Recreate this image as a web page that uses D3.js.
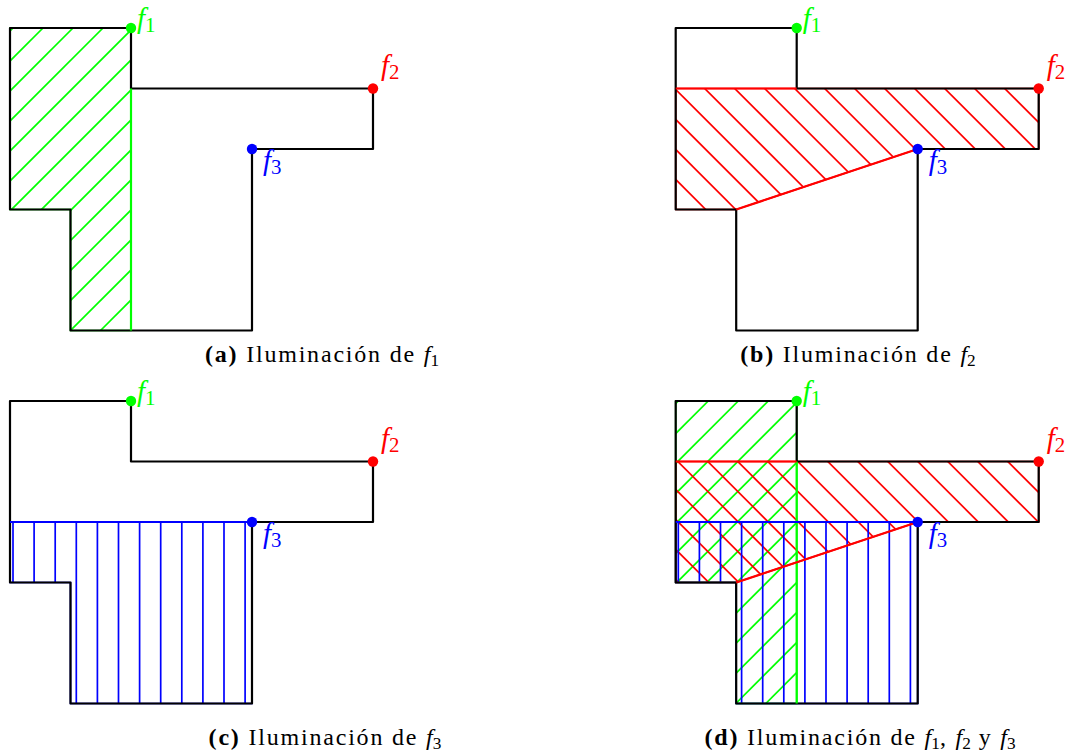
<!DOCTYPE html>
<html>
<head>
<meta charset="utf-8">
<script src="https://cdn.jsdelivr.net/npm/d3@7"></script>
<style>
  body { margin: 0; background: #fff; }
  svg { display: block; }
  text { font-family: "Liberation Serif", "DejaVu Serif", serif; }
</style>
</head>
<body>
<script>
// room outline in grid units (x to the right, y downwards)
var room = [[0,0],[2,0],[2,1],[6,1],[6,2],[4,2],[4,5],[1,5],[1,3],[0,3]];

var lightNames = ["f1", "f2", "f3"];
var lightPos = [[2,0], [6,1], [4,2]];
var lightColors = ["#00ff00", "#ff0000", "#0000ff"];

// region lit by each light
var litRegions = [
    [[0,0],[2,0],[2,5],[1,5],[1,3],[0,3]],
    [[0,1],[6,1],[6,2],[4,2],[1,3],[0,3]],
    [[0,2],[4,2],[4,5],[1,5],[1,3],[0,3]]
];

// coloured border of each lit region (the parts not on the walls)
var litEdges = [
    [[[2,1],[2,5]]],
    [[[0,1],[2,1]], [[4,2],[1,3]]],
    [[[0,2],[4,2]]]
];

var panelTags = ["(a)", "(b)", "(c)", "(d)"];
var panelLights = [[0], [1], [2], [0, 1, 2]];

// layout
var unit = 60.5;
var panelX = [10, 675.7, 10, 675.7],
    panelY = [28, 28, 401, 401];
var captionX = [322, 858, 325, 860],
    captionY = [362, 362, 745, 745];
// hatch phase per panel and light (pixels)
var hatchPhase = [[3, 4.5, 3], [3, 4.5, 3], [3, 3, 3], [2.6, 1.4, 2.6]];
var hatchKind = ["ne", "nw", "v"];

var svg = d3.select("body").append("svg")
    .attr("width", 1068)
    .attr("height", 752);

var x = d3.scaleLinear().domain([0, 6]).range([0, 6 * unit]),
    y = d3.scaleLinear().domain([0, 5]).range([0, 5 * unit]);

var W = x(6), H = y(5);
var line = d3.line().x(function(d) { return x(d[0]); }).y(function(d) { return y(d[1]); });
var poly = function(pts) { return line(pts) + "Z"; };

var defs = svg.append("defs");

function hatchLines(kind, phase) {
    var segs = [], c;
    if (kind === "ne") {        // x + y = c
        for (c = phase - 30; c < W + H + 30; c += 30) segs.push([[c, 0], [c - H, H]]);
    } else if (kind === "nw") { // y - x = c
        for (c = phase - W - 30; c < H + 30; c += 30) segs.push([[-c, 0], [H - c, H]]);
    } else {                    // vertical
        for (c = phase; c < W; c += 21.1) segs.push([[c, 0], [c, H]]);
    }
    return segs;
}

// italic f with an upright subscript; the next tspan takes back the shift
function mathF(text, name, size, sub) {
    text.append("tspan").attr("font-style", "italic").attr("letter-spacing", 0).text("f");
    text.append("tspan").attr("font-size", size * 0.72).attr("letter-spacing", 0)
        .attr("dy", sub).text(name.slice(1));
    return -sub;
}

panelTags.forEach(function(tag, p) {
    var g = svg.append("g")
        .attr("transform", "translate(" + panelX[p] + "," + panelY[p] + ")");

    // hatched lit regions
    panelLights[p].forEach(function(l) {
        var id = "clip-" + p + "-" + l;
        defs.append("clipPath").attr("id", id)
            .append("path").attr("d", poly(litRegions[l]));
        g.append("g")
            .attr("clip-path", "url(#" + id + ")")
            .selectAll("line")
            .data(hatchLines(hatchKind[l], hatchPhase[p][l]))
            .enter().append("line")
            .attr("x1", function(d) { return d[0][0]; })
            .attr("y1", function(d) { return d[0][1]; })
            .attr("x2", function(d) { return d[1][0]; })
            .attr("y2", function(d) { return d[1][1]; })
            .attr("stroke", lightColors[l])
            .attr("stroke-width", 1.7);
    });

    panelLights[p].forEach(function(l) {
        g.append("path")
            .attr("d", poly(litRegions[l]))
            .attr("fill", "none")
            .attr("stroke", lightColors[l])
            .attr("stroke-width", 1.6);
    });

    // walls
    g.append("path")
        .attr("d", poly(room))
        .attr("fill", "none")
        .attr("stroke", "#000")
        .attr("stroke-width", 2.2)
        .attr("stroke-linejoin", "round");

    // lit windows inside the room
    panelLights[p].forEach(function(l) {
        g.selectAll(null)
            .data(litEdges[l])
            .enter().append("path")
            .attr("d", line)
            .attr("fill", "none")
            .attr("stroke", lightColors[l])
            .attr("stroke-width", 2.2);
    });

    // lights
    var labelDx = [6, 8, 11], labelDy = [0, -13.5, 20.5];
    lightNames.forEach(function(name, i) {
        g.append("circle")
            .attr("cx", x(lightPos[i][0]))
            .attr("cy", y(lightPos[i][1]))
            .attr("r", 5.2)
            .attr("fill", lightColors[i]);
        var t = g.append("text")
            .attr("x", x(lightPos[i][0]) + labelDx[i])
            .attr("y", y(lightPos[i][1]) + labelDy[i])
            .attr("font-size", 29)
            .attr("fill", lightColors[i]);
        mathF(t, name, 29, 4);
    });

    // caption
    var cap = svg.append("text")
        .attr("x", captionX[p])
        .attr("y", captionY[p])
        .attr("text-anchor", "middle")
        .attr("font-size", 24)
        .attr("letter-spacing", 1.8)
        .attr("fill", "#000");
    cap.append("tspan").attr("font-weight", "bold").text(tag);
    cap.append("tspan").text(" Iluminación de ");
    var back = 0;
    panelLights[p].forEach(function(l, i) {
        if (i > 0) {
            cap.append("tspan").attr("dy", back)
                .text(i === panelLights[p].length - 1 ? " y " : ", ");
            back = 0;
        }
        back = mathF(cap, lightNames[l], 24, 4);
    });
});
</script>
</body>
</html>
